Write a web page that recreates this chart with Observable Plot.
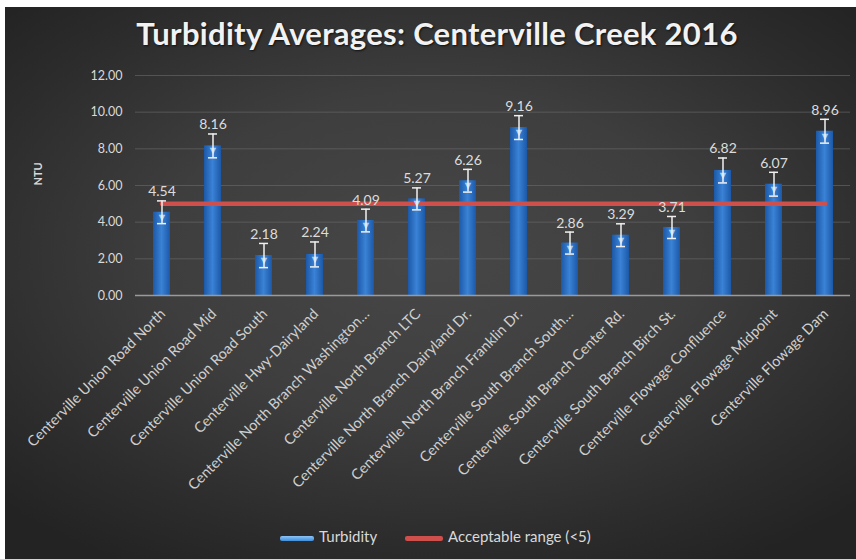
<!DOCTYPE html>
<html><head><meta charset="utf-8">
<script src="https://cdn.jsdelivr.net/npm/d3@7"></script>
<script src="https://cdn.jsdelivr.net/npm/@observablehq/plot@0.6"></script>
<style>
html,body{margin:0;padding:0;background:#fff;}
#wrap{position:absolute;left:5px;top:7px;width:851px;height:552px;overflow:hidden;
  background:radial-gradient(ellipse 70% 65% at 50% 45%, #474747 0%, #3e3e3e 45%, #2c2c2c 80%, #232323 100%);
  font-family:Lato,"Open Sans",sans-serif;}
#title{position:absolute;top:7px;left:0;width:864px;text-align:center;color:#f2f2f2;font-size:31px;font-weight:bold;letter-spacing:0.3px;text-shadow:1px 1px 2px #111;}
#chart{position:absolute;left:0;top:53px;}
#legend{position:absolute;top:520px;left:0;width:851px;height:22px;color:#d9d9d9;font-size:15px;}
.sw{position:absolute;height:5px;border-radius:2px;}
.lt{position:absolute;top:0;white-space:nowrap;}
</style></head>
<body>
<div id="wrap">
  <div id="title">Turbidity Averages: Centerville Creek 2016</div>
  <div id="chart"></div>
  <div id="legend">
    <div class="sw" style="left:275px;top:9px;width:34px;background:linear-gradient(#8cc4f5,#3f8fdc);"></div>
    <div class="lt" style="left:314px;">Turbidity</div>
    <div class="sw" style="left:400px;top:9px;width:38px;background:#cf4f4c;"></div>
    <div class="lt" style="left:443px;">Acceptable range (&lt;5)</div>
  </div>
</div>
<script>
const sites = [
  "Centerville Union Road North",
  "Centerville Union Road Mid",
  "Centerville Union Road South",
  "Centerville Hwy-Dairyland",
  "Centerville North Branch Washington…",
  "Centerville North Branch LTC",
  "Centerville North Branch Dairyland Dr.",
  "Centerville North Branch Franklin Dr.",
  "Centerville South Branch South…",
  "Centerville South Branch Center Rd.",
  "Centerville South Branch Birch St.",
  "Centerville Flowage Confluence",
  "Centerville Flowage Midpoint",
  "Centerville Flowage Dam"
];
const turbidity = [4.54, 8.16, 2.18, 2.24, 4.09, 5.27, 6.26, 9.16, 2.86, 3.29, 3.71, 6.82, 6.07, 8.96];
const errors = [0.62, 0.65, 0.66, 0.68, 0.62, 0.60, 0.62, 0.65, 0.60, 0.62, 0.60, 0.68, 0.65, 0.65];
const acceptable = 5;
const yTicks = [0, 2, 4, 6, 8, 10, 12];

const data = sites.map((s, i) => ({site: s, value: turbidity[i], err: errors[i], limit: acceptable}));

const chart = Plot.plot({
  width: 851,
  height: 465,
  marginLeft: 130,
  marginRight: 6,
  marginTop: 15,
  marginBottom: 230,
  style: {background: "transparent", color: "#d9d9d9", fontFamily: "Lato, 'Open Sans', sans-serif", fontSize: "12px"},
  x: {type: "band", domain: sites, paddingInner: 0.67, paddingOuter: 0.335, label: null},
  y: {domain: [0, 12], ticks: yTicks, label: null},
  marks: [
    Plot.gridY(yTicks.filter(d => d > 0), {stroke: "#6a6a6a", strokeOpacity: 0.6, strokeWidth: 1}),
    Plot.barY(data, {x: "site", y: "value", fill: "url(#barGrad)"}),
    Plot.ruleY([0], {stroke: "#9a9a9a", strokeWidth: 1.5}),
    Plot.lineY(data, {x: "site", y: "limit", stroke: "#cf4f4c", strokeWidth: 4.5}),
    Plot.text(data, {x: "site", y: "value", text: () => "▼", fill: "#a9d2f7", fontSize: 11, dy: 5}),
    Plot.ruleX(data, {x: "site", y1: d => d.value - d.err, y2: d => d.value + d.err, stroke: "#f0f0f0", strokeWidth: 1.5}),
    Plot.tickY(data, {x: "site", y: d => d.value + d.err, stroke: "#f0f0f0", strokeWidth: 1.5, insetLeft: 4, insetRight: 4}),
    Plot.tickY(data, {x: "site", y: d => d.value - d.err, stroke: "#f0f0f0", strokeWidth: 1.5, insetLeft: 4, insetRight: 4}),
    Plot.text(data, {x: "site", y: d => d.value + d.err, text: d => d.value.toFixed(2), fill: "#dcdcdc", fontSize: 14, dy: -9}),
    Plot.axisY({ticks: yTicks, tickFormat: d3.format(".2f"), tickSize: 0, tickPadding: 13, fontSize: 12.5, fill: "#d9d9d9", label: null}),
    Plot.axisX({tickSize: 0, tickRotate: -45, tickPadding: 16, dx: 1, fontSize: 14.5, fill: "#cfcfcf", label: null}),
    Plot.text(["NTU"], {frameAnchor: "left", dx: -97, rotate: -90, fontWeight: "bold", fontSize: 11, fill: "#d9d9d9"})
  ]
});

const ns = "http://www.w3.org/2000/svg";
const defs = document.createElementNS(ns, "defs");
defs.innerHTML = `<linearGradient id="barGrad" x1="0" x2="1" y1="0" y2="0">
  <stop offset="0" stop-color="#1c58a8"/>
  <stop offset="0.5" stop-color="#3a82d6"/>
  <stop offset="1" stop-color="#1c58a8"/>
</linearGradient>`;
chart.insertBefore(defs, chart.firstChild);
document.getElementById("chart").appendChild(chart);
</script>
</body></html>
